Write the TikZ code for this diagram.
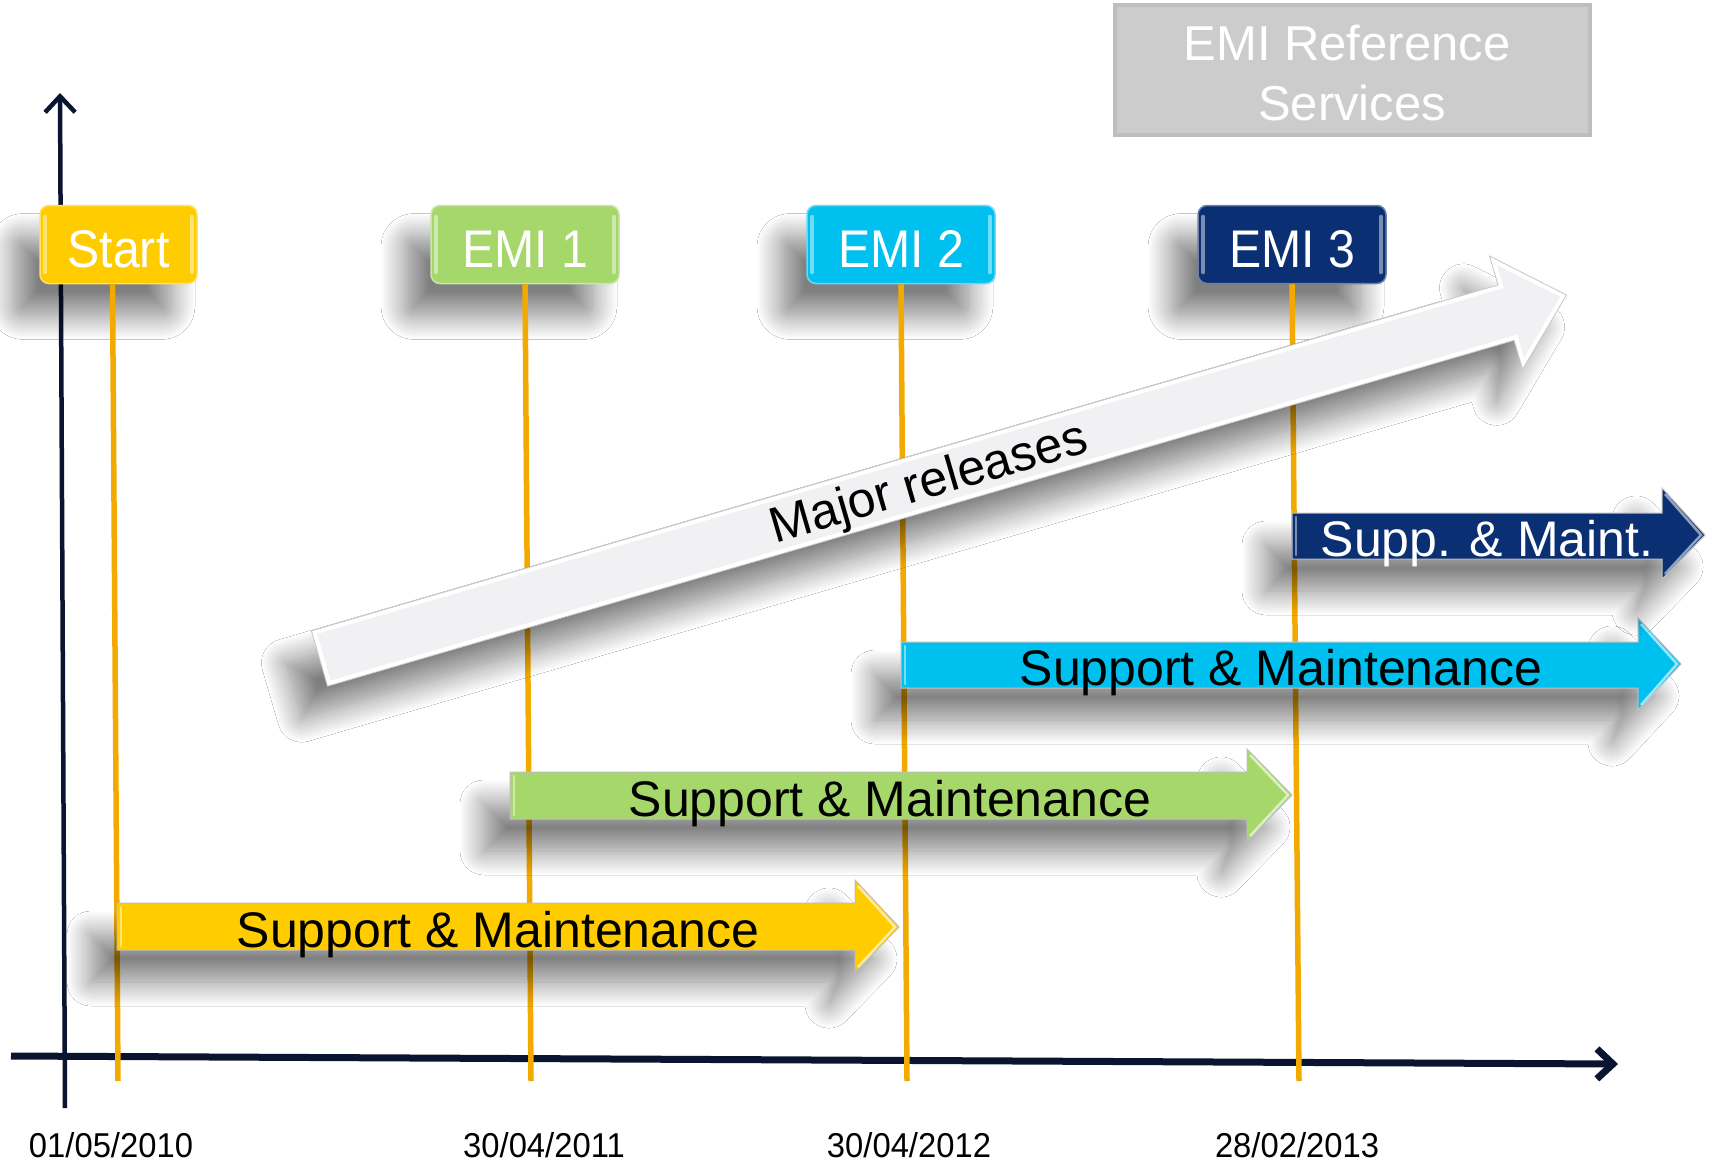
\documentclass[tikz,border=0pt]{standalone}
\usepackage{fontspec}
\usepackage{graphicx}
\setmainfont{Liberation Sans}
\usetikzlibrary{shadows.blur,arrows.meta}
\definecolor{cYel}{HTML}{FFCC00}
\definecolor{cGrn}{HTML}{A5D76A}
\definecolor{cCyn}{HTML}{00C0F0}
\definecolor{cBlu}{HTML}{0B2F73}
\definecolor{cOrg}{HTML}{F2A900}
\definecolor{cAx}{HTML}{0A1430}
\definecolor{cGry}{HTML}{CCCCCC}
\definecolor{cGryB}{HTML}{BEBEBE}
\definecolor{cRel}{HTML}{F1F1F4}
\tikzset{
  shad/.style={blur shadow={shadow xshift=-26pt, shadow yshift=-32pt, shadow blur radius=24pt, shadow blur steps=24, shadow opacity=50}},
  relbox/.style={rounded corners=9pt, minimum height=78pt, inner sep=0pt, shad, fill=#1, draw=#1!60!white, line width=1.5pt},
  boxtxt/.style={text=white, font=\fontsize{53}{53}\selectfont, anchor=base, inner sep=0pt},
  bev/.style={#1!55!white, line width=4pt, line cap=round},
  vline/.style={cOrg, line width=5.5pt},
  axisline/.style={cAx, -{Straight Barb[length=16pt,width=30pt]}},
  datelbl/.style={font=\fontsize{34.5}{34.5}\selectfont, text=black, inner sep=0pt, anchor=base},
  arrtxt/.style={font=\fontsize{50}{50}\selectfont, inner sep=0pt, anchor=base},
  sarrow/.style={fill=#1, draw=gray!50, line width=1pt, shad},
}
\newcommand{\cond}[1]{\scalebox{0.91}[1]{#1}}
\begin{document}
\begin{tikzpicture}[x=1pt,y=-1pt]
\useasboundingbox[fill=white] (0,0) rectangle (1712,1164);

% axes
\coordinate (yb) at (65,1108);
\coordinate (yt) at (60,93);
\coordinate (xl) at (11,1056);
\coordinate (xr) at (1618,1064);
\draw[axisline, line width=4.5pt] (yb) -- (yt);
\draw[axisline, line width=7pt] (xl) -- (xr);

% milestone boxes
\node[relbox=cYel, minimum width=157pt] (start) at (118.5,244.5) {};
\node[relbox=cGrn, minimum width=188pt] (emi1) at (525,244.5) {};
\node[relbox=cCyn, minimum width=188pt] (emi2) at (901,244.5) {};
\node[relbox=cBlu, minimum width=188pt] (emi3) at (1292,244.5) {};
\node[boxtxt] (tstart) at (118.5,267) {\cond{Start}};
\node[boxtxt] (temi1) at (525,267) {\cond{EMI 1}};
\node[boxtxt] (temi2) at (901,267) {\cond{EMI 2}};
\node[boxtxt] (temi3) at (1292,267) {\cond{EMI 3}};

% vertical milestone lines
\coordinate (sb) at (118,1081);
\coordinate (e1b) at (531,1081);
\coordinate (e2b) at (907,1081);
\coordinate (e3b) at (1299,1081);
\draw[vline] ([xshift=-6pt]start.south) -- (sb);
\draw[vline] (emi1.south) -- (e1b);
\draw[vline] (emi2.south) -- (e2b);
\draw[vline] (emi3.south) -- (e3b);

% bevel strips on boxes
\foreach \n/\c in {start/cYel, emi1/cGrn, emi2/cCyn, emi3/cBlu}{
  \draw[bev=\c] ([xshift=6pt,yshift=-12pt]\n.north west) -- ([xshift=6pt,yshift=12pt]\n.south west);
  \draw[bev=\c] ([xshift=-6pt,yshift=-12pt]\n.north east) -- ([xshift=-6pt,yshift=12pt]\n.south east);
}

% reference services box
\node[draw=cGryB, line width=4pt, fill=cGry, minimum width=475pt, minimum height=130pt, inner sep=0pt] (ref) at (1352,70) {};
\node[text=white, font=\fontsize{49}{49}\selectfont, anchor=base, inner sep=0pt] (ref1) at (1347,60) {EMI Reference};
\node[text=white, font=\fontsize{49}{49}\selectfont, anchor=base, inner sep=0pt] (ref2) at (1352,120) {Services};

% Major releases arrow
\begin{scope}[shift={(319.5,658.5)}, rotate=16.25]
  \path[fill=cRel, shad] (0,-28.8) -- (1236,-28.8) -- (1236,-59) -- (1299,0) -- (1236,59) -- (1236,28.8) -- (0,28.8) -- cycle;
  \begin{scope}
    \clip (0,-28.8) -- (1236,-28.8) -- (1236,-59) -- (1299,0) -- (1236,59) -- (1236,28.8) -- (0,28.8) -- cycle;
    \draw[white, line width=9pt] (0,-28.8) -- (1236,-28.8) -- (1236,-59) -- (1299,0) -- (1236,59) -- (1236,28.8) -- (0,28.8) -- cycle;
  \end{scope}
  \draw[gray!45, line width=0.8pt] (0,-28.8) -- (1236,-28.8) -- (1236,-59) -- (1299,0) -- (1236,59) -- (1236,28.8) -- (0,28.8) -- cycle;
  \node[font=\fontsize{50}{50}\selectfont, inner sep=0pt, rotate=16.25] (major) at (634,4) {Major releases};
\end{scope}

% support & maintenance arrows
\path[sarrow=cYel] (117,903) -- (855,903) -- (855,880) -- (899,927) -- (855,972) -- (855,950) -- (117,950) -- cycle;
\draw[bev=cYel, line width=2.5pt] (121,907) -- (121,946);
\draw[cYel!40!white, line width=2.5pt] (858,886) -- (895,927) -- (858,967);
\node[arrtxt] (sm0) at (498,947) {Support \& Maintenance};

\path[sarrow=cGrn] (510,772) -- (1247,772) -- (1247,749) -- (1292,795) -- (1247,841) -- (1247,819) -- (510,819) -- cycle;
\draw[bev=cGrn, line width=2.5pt] (514,776) -- (514,815);
\draw[cGrn!40!white, line width=2.5pt] (1250,755) -- (1288,795) -- (1250,836);
\node[arrtxt] (sm1) at (890,816) {Support \& Maintenance};

\path[sarrow=cCyn] (901,642) -- (1638,642) -- (1638,618) -- (1681,664) -- (1638,710) -- (1638,688) -- (901,688) -- cycle;
\draw[bev=cCyn, line width=2.5pt] (905,646) -- (905,684);
\draw[cCyn!40!white, line width=2.5pt] (1641,624) -- (1677,664) -- (1641,705);
\node[arrtxt] (sm2) at (1281,685) {Support \& Maintenance};

\path[sarrow=cBlu] (1292,513) -- (1662,513) -- (1662,488) -- (1705,535) -- (1662,579) -- (1662,559) -- (1292,559) -- cycle;
\draw[bev=cBlu, line width=2.5pt] (1296,517) -- (1296,555);
\draw[cBlu!45!white, line width=2.5pt] (1665,494) -- (1701,535) -- (1665,574);
\node[arrtxt, text=white] (sm3) at (1487,556) {Supp. \& Maint.};

% dates
\node[datelbl] (d0) at (111,1157) {\scalebox{0.95}[1]{01/05/2010}};
\node[datelbl] (d1) at (544,1157) {\scalebox{0.95}[1]{30/04/2011}};
\node[datelbl] (d2) at (909,1157) {\scalebox{0.95}[1]{30/04/2012}};
\node[datelbl] (d3) at (1297,1157) {\scalebox{0.95}[1]{28/02/2013}};
\end{tikzpicture}
\end{document}
